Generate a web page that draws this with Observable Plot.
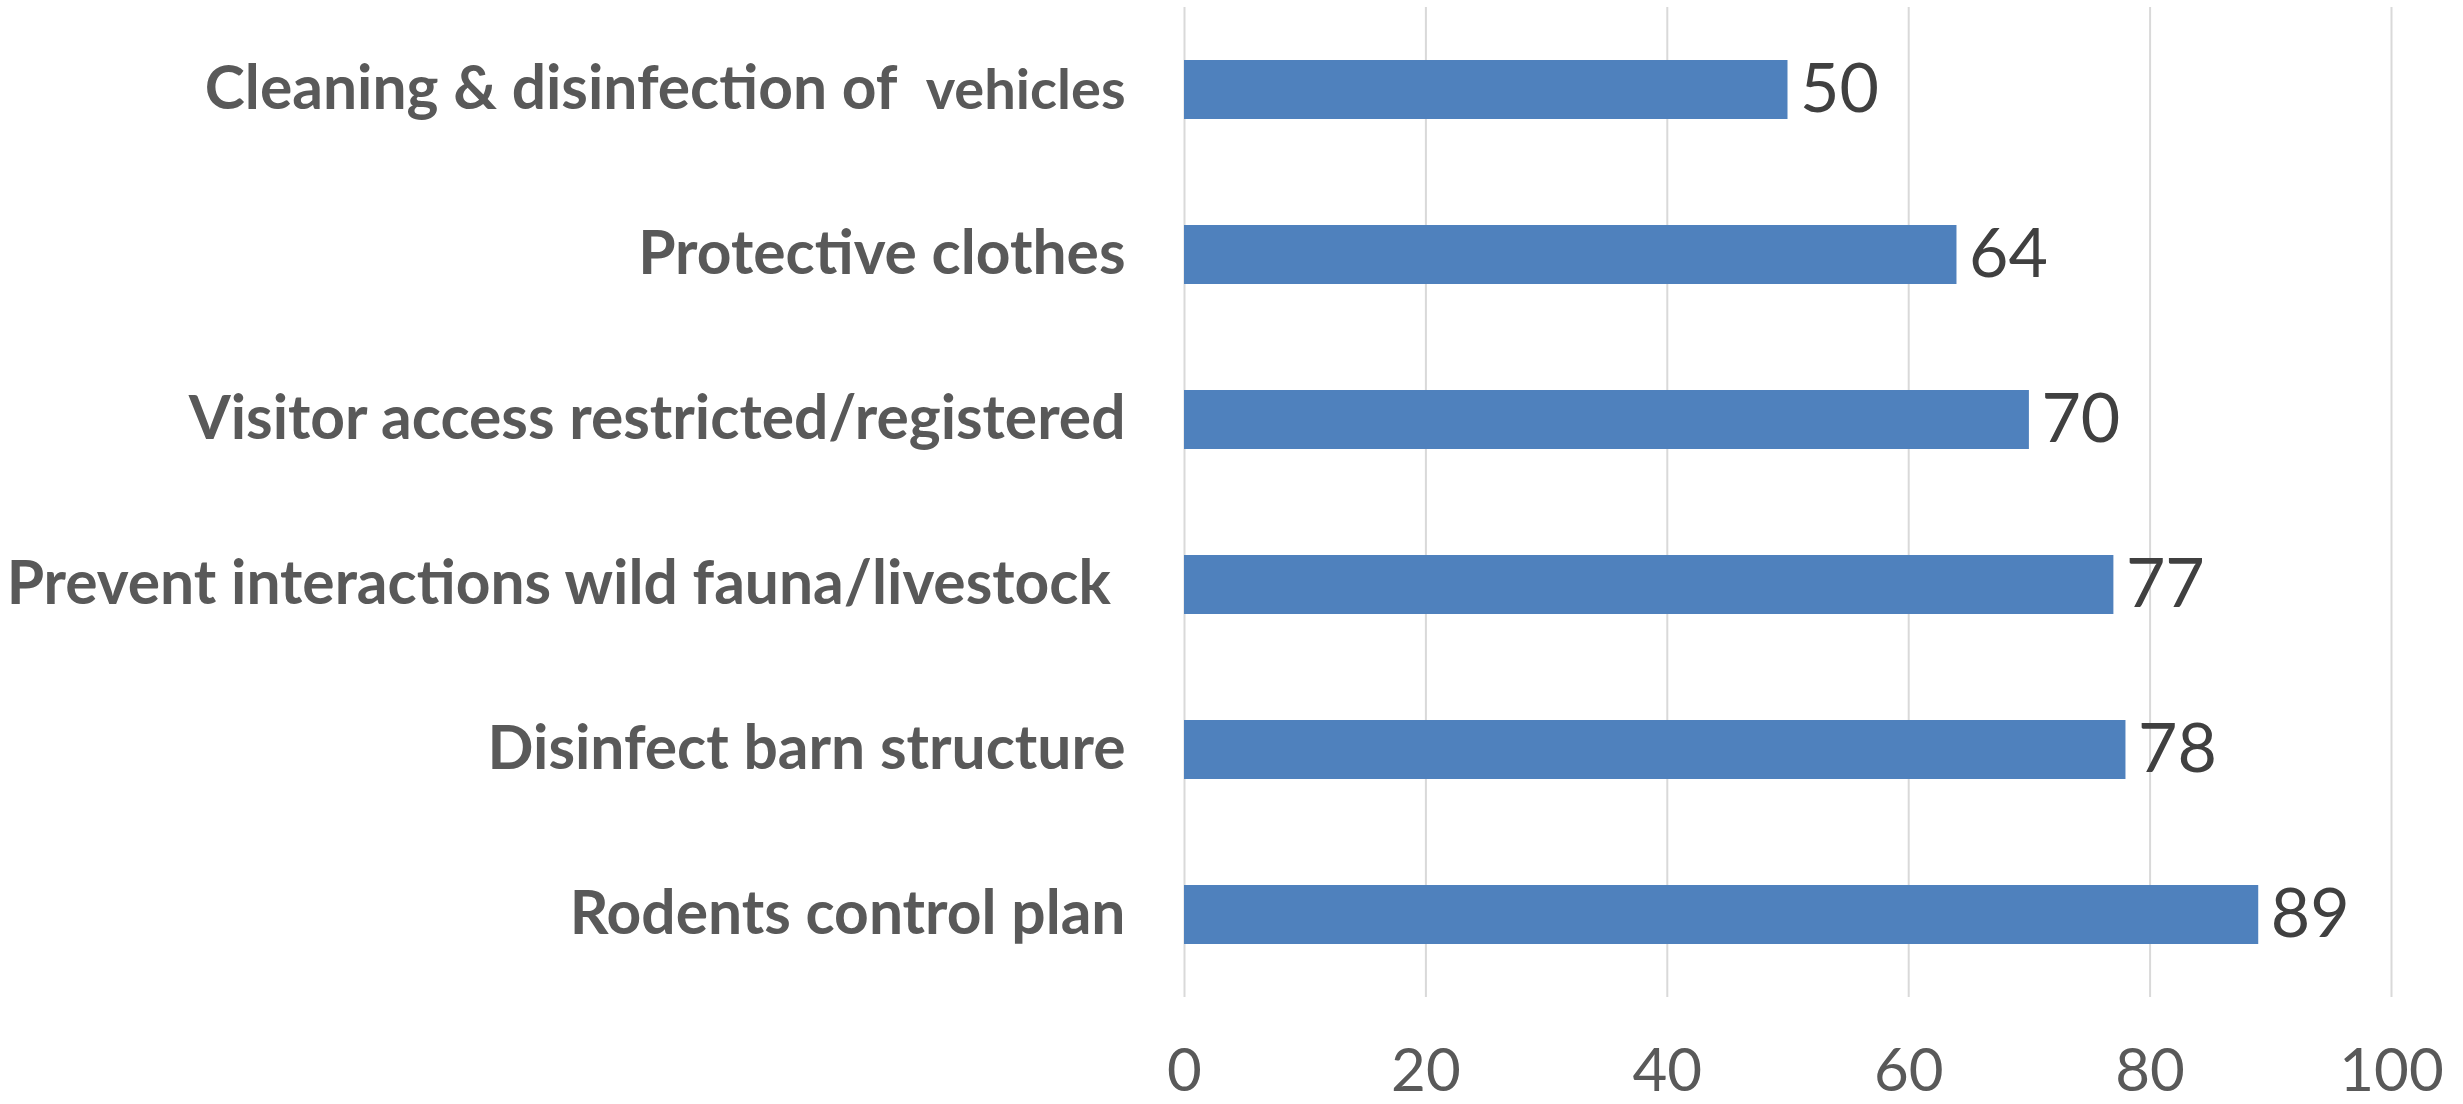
<!DOCTYPE html>
<html>
<head>
<meta charset="utf-8">
<script src="https://cdn.jsdelivr.net/npm/d3@7"></script>
<script src="https://cdn.jsdelivr.net/npm/@observablehq/plot@0.6"></script>
<style>
  html, body { margin: 0; padding: 0; background: #ffffff; }
  #chart svg { display: block; }
</style>
</head>
<body>
<div id="chart"></div>
<script>
const categories = [
  "Cleaning & disinfection of  vehicles",
  "Protective clothes",
  "Visitor access restricted/registered",
  "Prevent interactions wild fauna/livestock ",
  "Disinfect barn structure",
  "Rodents control plan"
];
const values = [50, 64, 70, 77, 78, 89];
const xTicks = [0, 20, 40, 60, 80, 100];

const data = categories.map((c, i) => ({category: c, value: values[i]}));

const plot = Plot.plot({
  width: 2463,
  height: 1104,
  marginLeft: 1184,
  marginRight: 72,
  marginTop: 7,
  marginBottom: 107,
  style: {fontFamily: "Lato, sans-serif", background: "#ffffff"},
  x: {domain: [0, 100], label: null},
  y: {domain: categories, paddingInner: 0.64, paddingOuter: 0.32, label: null},
  marks: [
    Plot.gridX(xTicks, {stroke: "#d9d9d9", strokeOpacity: 1, strokeWidth: 2}),
    Plot.barX(data, {x: "value", y: "category", fill: "#4f81bd"}),
    Plot.text(data, {x: "value", y: "category", text: d => String(d.value), textAnchor: "start", dx: 12, fontSize: 68, fill: "#404040"}),
    Plot.axisX(xTicks, {tickSize: 0, tickPadding: 51, fontSize: 60, fill: "#595959", tickFormat: d => String(d), label: null}),
    Plot.axisY({tickSize: 0, tickPadding: 59, fontSize: 60.5, fontWeight: "bold", fill: "#595959", label: null})
  ]
});
document.getElementById("chart").appendChild(plot);

// preserve the spacing of the original labels and set the smaller "vehicles" part
const XMLNS = "http://www.w3.org/XML/1998/namespace";
d3.select(plot).selectAll("text").each(function() {
  this.setAttributeNS(XMLNS, "xml:space", "preserve");
  const t = this.textContent;
  if (t === categories[0]) {
    const parts = t.split("  ");
    this.textContent = "";
    const sel = d3.select(this);
    sel.append("tspan").text(parts[0] + "  ");
    sel.append("tspan").attr("font-size", 56).text(parts[1]);
  }
});
</script>
</body>
</html>
